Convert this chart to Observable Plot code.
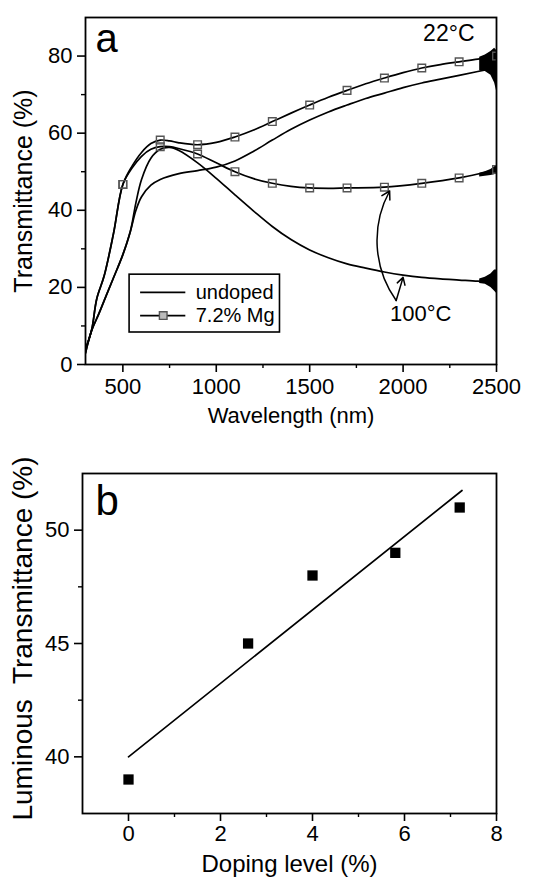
<!DOCTYPE html>
<html><head><meta charset="utf-8">
<script src="https://cdn.jsdelivr.net/npm/d3@7"></script>
<script src="https://cdn.jsdelivr.net/npm/@observablehq/plot@0.6"></script>
<style>
html,body{margin:0;padding:0;background:#fff;}
#wrap{width:547px;height:877px;position:relative;overflow:hidden;}
#wrap svg{display:block;}
</style></head>
<body><div id="wrap"><div id="pa"></div><div id="pb"></div></div>
<script>
// ---------- Panel a data ----------
const dopedRT_wl = [300,333,360,400,450,500,550,600,650,700,750,800,900,1000,1100,1200,1300,1400,1500,1600,1700,1800,1900,2000,2100,2200,2300,2400,2500];
const dopedRT_T  = [4,9,17,23,34,46.7,51.5,55,57.3,58.2,58,57.5,57,57.6,59,60.8,63,65.2,67.3,69.3,71.1,72.8,74.3,75.7,76.9,77.8,78.5,79.2,80];
const dopedHT_wl = [300,333,360,400,450,500,550,600,650,700,750,800,900,1000,1100,1200,1300,1400,1500,1600,1700,1900,2100,2300,2400,2500];
const dopedHT_T  = [4,9,17,23,34,46.7,51,54,55.8,56.5,56.5,56,54.6,52.3,50,48.2,47,46.2,45.8,45.7,45.8,46,47,48.4,49.4,50.6];
const undopedRT_wl = [300,333,370,407,450,500,540,570,600,650,700,800,900,1000,1100,1200,1300,1400,1500,1600,1700,1800,1900,2000,2100,2200,2300,2400,2500];
const undopedRT_T  = [3,8.8,13,17.4,22.5,28.5,34.5,40,43.5,46.5,48,49.5,50.3,51.2,52.8,55.3,58.2,61,63.4,65.5,67.3,69,70.4,71.8,73,74,75,76,77];
const undopedHT_wl = [300,333,370,407,450,500,540,570,600,650,700,750,800,900,1000,1100,1200,1300,1400,1500,1600,1700,1800,1900,2000,2100,2200,2300,2400,2500];
const undopedHT_T  = [3,8.8,13,17.4,22.5,28.5,34.5,42,48,53.5,55.8,56.3,55.5,52.3,48.3,44,39.8,35.8,32.4,29.7,27.7,26.1,25,24,23.2,22.6,22.2,21.9,21.6,21.4];
// square markers on the 7.2% Mg curves
const marker_wl = [500,700,900,1100,1300,1500,1700,1900,2100,2300,2500];
const markerRT_T = [46.7,58.2,57,59,63,67.3,71.1,74.3,76.9,78.5,80];
const markerHT_T = [46.7,56.5,54.6,50,47,45.8,45.8,46,47,48.4,50.6];
// measurement noise envelopes at the long-wavelength end
const noise_wl = [2410,2440,2470,2490,2500];
const noiseRT_hi = [79.7,80.3,81.2,82,81.5];
const noiseRT_lo = [76.2,76,75,73,71];
const noiseHT_hi = [22.2,22.6,23.5,24.5,24.5];
const noiseHT_lo = [21,20.8,20,19,18.5];
const noiseD_hi = [49.6,50,50.6,51.3,51.5];
const noiseD_lo = [48.6,48.8,49,49.2,49.5];
// ticks
const xTicksA = [500,1000,1500,2000,2500];
const xMinorA = [750,1250,1750,2250];
const yTicksA = [0,20,40,60,80];
const yMinorA = [10,30,50,70];
const legendLabels = ["undoped","7.2% Mg"];

// ---------- Panel b data ----------
const doping = [0,2.6,4,5.8,7.2];
const lumT = [39,45,48,49,51];
const fitX = [0,7.25];
const fitY = [40,51.75];
const xTicksB = [0,2,4,6,8];
const xMinorB = [1,3,5,7];
const yTicksB = [40,45,50];
const yMinorB = [42.5,47.5];

const FONT = "'Liberation Sans', Arial, Helvetica, sans-serif";
const toRows = (xs, ys) => xs.map((x, i) => ({x, y: ys[i]}));
const noiseRows = (hi, lo) => noise_wl.map((x, i) => ({x, hi: hi[i], lo: lo[i]}));
const fmt = d3.format("d");

// legend layout in panel-a data units
const LG = {x1: 536, x2: 1341, y1: 8.3, y2: 23.3, sx1: 595, sx2: 837, tx: 890, rows: [18.7, 12.7]};

const curveStyle = {x: "x", y: "y", stroke: "black", strokeWidth: 1.7, curve: "catmull-rom", clip: true};
const sq = {symbol: "square", r: 4.3, stroke: "#555", strokeWidth: 1.4, fill: "none", clip: true};

const pa = Plot.plot({
  width: 547, height: 440,
  marginTop: 17, marginBottom: 76, marginLeft: 85, marginRight: 51,
  x: {domain: [300, 2500]},
  y: {domain: [0, 90]},
  style: {fontFamily: FONT, fontSize: "22px", color: "black", background: "white", overflow: "visible"},
  marks: [
    Plot.areaY(noiseRows(noiseRT_hi, noiseRT_lo), {x: "x", y1: "lo", y2: "hi", fill: "black", clip: true}),
    Plot.areaY(noiseRows(noiseHT_hi, noiseHT_lo), {x: "x", y1: "lo", y2: "hi", fill: "black", clip: true}),
    Plot.areaY(noiseRows(noiseD_hi, noiseD_lo), {x: "x", y1: "lo", y2: "hi", fill: "black", clip: true}),
    Plot.line(toRows(undopedRT_wl, undopedRT_T), curveStyle),
    Plot.line(toRows(undopedHT_wl, undopedHT_T), curveStyle),
    Plot.line(toRows(dopedRT_wl, dopedRT_T), curveStyle),
    Plot.line(toRows(dopedHT_wl, dopedHT_T), curveStyle),
    Plot.dot(toRows(marker_wl, markerRT_T), {x: "x", y: "y", ...sq}),
    Plot.dot(toRows(marker_wl, markerHT_T), {x: "x", y: "y", ...sq}),
    // arrows from 22 °C to 100 °C
    Plot.arrow([{x1: 1963, y1: 16.6, x2: 1928, y2: 45}], {x1: "x1", y1: "y1", x2: "x2", y2: "y2", bend: 32, headLength: 9, strokeWidth: 1.5}),
    Plot.arrow([{x1: 1963, y1: 16.6, x2: 2000, y2: 22.6}], {x1: "x1", y1: "y1", x2: "x2", y2: "y2", bend: 0, headLength: 8, strokeWidth: 1.5}),
    Plot.text(["100°C"], {x: 1930, y: 13.2, text: d => d, textAnchor: "start", fontSize: 22, fill: "black"}),
    // legend
    Plot.rect([LG], {x1: "x1", x2: "x2", y1: "y1", y2: "y2", fill: "white", stroke: "black", strokeWidth: 1.6}),
    Plot.ruleY(LG.rows, {x1: LG.sx1, x2: LG.sx2, y: d => d, stroke: "black", strokeWidth: 1.7}),
    Plot.dot([LG.rows[1]], {x: (LG.sx1 + LG.sx2) / 2, y: d => d, symbol: "square", r: 4.3, stroke: "#555", strokeWidth: 1.4, fill: "#bbb"}),
    Plot.text(legendLabels, {x: LG.tx, y: (d, i) => LG.rows[i], text: d => d, textAnchor: "start", fontSize: 20, fill: "black"}),
    // annotations
    Plot.text(["a"], {frameAnchor: "top-left", dx: 10, dy: 6, lineAnchor: "top", text: d => d, fontSize: 40, fill: "black"}),
    Plot.text(["22°C"], {frameAnchor: "top-right", dx: -22, dy: 7, lineAnchor: "top", text: d => d, fontSize: 23, fill: "black"}),
    // axes
    Plot.axisX(xTicksA, {tickSize: 8, tickPadding: 6, fontSize: 22, tickFormat: fmt, label: null, strokeWidth: 1.6}),
    Plot.axisX(xMinorA, {tickSize: 4, tickFormat: () => "", label: null, strokeWidth: 1.4}),
    Plot.axisY(yTicksA, {tickSize: 8, tickPadding: 5, fontSize: 22, tickFormat: fmt, label: null, strokeWidth: 1.6}),
    Plot.axisY(yMinorA, {tickSize: 4, tickFormat: () => "", label: null, strokeWidth: 1.4}),
    Plot.frame({stroke: "black", strokeWidth: 1.8}),
    Plot.text(["Wavelength (nm)"], {frameAnchor: "bottom", dy: 51, lineAnchor: "middle", text: d => d, fontSize: 22, fill: "black"}),
    Plot.text(["Transmittance (%)"], {frameAnchor: "left", dx: -62, rotate: -90, textAnchor: "middle", lineAnchor: "middle", text: d => d, fontSize: 25, fill: "black"})
  ]
});
document.getElementById("pa").appendChild(pa);

const pb = Plot.plot({
  width: 547, height: 437,
  marginTop: 33, marginBottom: 64, marginLeft: 82, marginRight: 51,
  x: {domain: [-1, 8]},
  y: {domain: [37.5, 52.5]},
  style: {fontFamily: FONT, fontSize: "22px", color: "black", background: "white", overflow: "visible"},
  marks: [
    Plot.line(toRows(fitX, fitY), {x: "x", y: "y", stroke: "black", strokeWidth: 1.7}),
    Plot.dot(toRows(doping, lumT), {x: "x", y: "y", symbol: "square", r: 5.8, fill: "black", stroke: "none"}),
    Plot.text(["b"], {frameAnchor: "top-left", dx: 13, dy: 12, lineAnchor: "top", text: d => d, fontSize: 42, fill: "black"}),
    Plot.axisX(xTicksB, {tickSize: 8, tickPadding: 4, fontSize: 22, tickFormat: fmt, label: null, strokeWidth: 1.6}),
    Plot.axisX(xMinorB, {tickSize: 4, tickFormat: () => "", label: null, strokeWidth: 1.4}),
    Plot.axisY(yTicksB, {tickSize: 8, tickPadding: 5, fontSize: 22, tickFormat: fmt, label: null, strokeWidth: 1.6}),
    Plot.axisY(yMinorB, {tickSize: 4, tickFormat: () => "", label: null, strokeWidth: 1.4}),
    Plot.frame({stroke: "black", strokeWidth: 1.8}),
    Plot.text(["Doping level (%)"], {frameAnchor: "bottom", dy: 51, lineAnchor: "middle", text: d => d, fontSize: 24, fill: "black"}),
    Plot.text(["Luminous  Transmittance (%)"], {frameAnchor: "left", dx: -59, dy: -5, rotate: -90, textAnchor: "middle", lineAnchor: "middle", text: d => d, fontSize: 28, fill: "black", style: "white-space:pre"})
  ]
});
document.getElementById("pb").appendChild(pb);
</script>
</body></html>
